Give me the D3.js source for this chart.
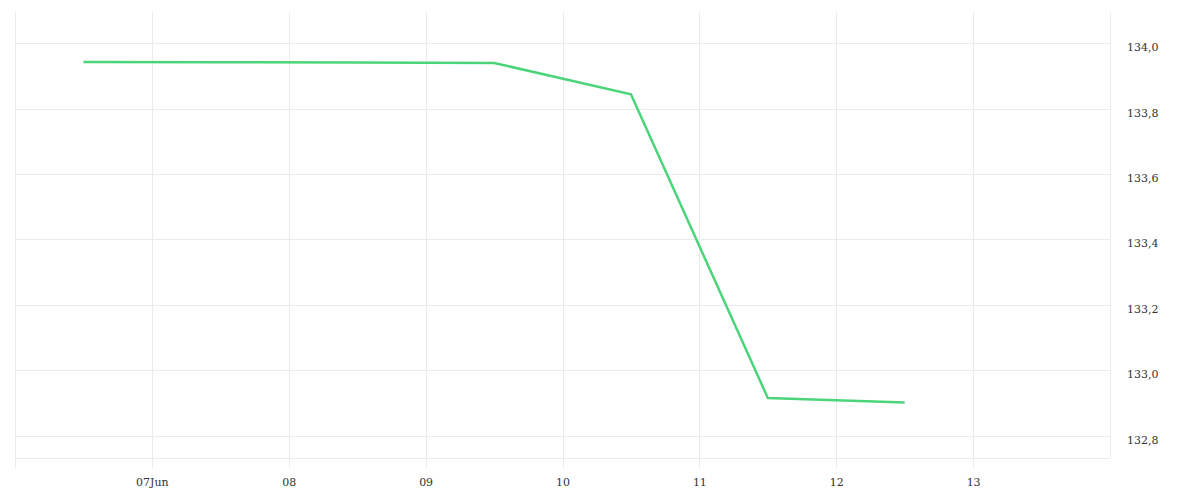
<!DOCTYPE html>
<html>
<head>
<meta charset="utf-8">
<script src="https://cdn.jsdelivr.net/npm/d3@7"></script>
<style>
  html, body { margin: 0; padding: 0; background: #fff; }
  svg { display: block; }
</style>
</head>
<body>
<svg id="chart" width="1200" height="500"></svg>
<script>
// ---- data ----
const dates = ["2023-06-06T12:00", "2023-06-07T12:00", "2023-06-08T12:00", "2023-06-09T12:00",
               "2023-06-10T12:00", "2023-06-11T12:00", "2023-06-12T12:00"];
const values = [133.943, 133.942, 133.941, 133.940, 133.844, 132.915, 132.901];
const yTicks = [132.8, 133.0, 133.2, 133.4, 133.6, 133.8, 134.0];
const xTicks = ["2023-06-07", "2023-06-08", "2023-06-09", "2023-06-10", "2023-06-11", "2023-06-12", "2023-06-13"];
const xTickLabels = ["07Jun", "08", "09", "10", "11", "12", "13"];

// ---- layout ----
const parse = d3.timeParse("%Y-%m-%dT%H:%M");
const parseDay = d3.timeParse("%Y-%m-%d");
const pLeft = 15, pRight = 1110, pTop = 12, pBottom = 458, vBottom = 468;
const FONT = "'DejaVu Serif', 'Liberation Serif', serif";

const x = d3.scaleTime()
  .domain([parseDay("2023-06-06"), parseDay("2023-06-14")])
  .range([pLeft, pRight]);
const y = d3.scaleLinear()
  .domain([132.8, 134.0])
  .range([435.5, 43.3]);

const svg = d3.select("#chart");
const grid = "#ebebeb";

// horizontal gridlines
svg.append("g").selectAll("line").data(yTicks).join("line")
  .attr("x1", pLeft).attr("x2", pRight)
  .attr("y1", d => Math.round(y(d)) + 0.5).attr("y2", d => Math.round(y(d)) + 0.5)
  .attr("stroke", grid).attr("stroke-width", 1);

// bottom line
svg.append("line")
  .attr("x1", pLeft).attr("x2", pRight).attr("y1", pBottom + 0.5).attr("y2", pBottom + 0.5)
  .attr("stroke", grid);

// vertical gridlines
const xTickDates = xTicks.map(parseDay);
svg.append("g").selectAll("line").data(xTickDates).join("line")
  .attr("x1", d => Math.round(x(d)) + 0.5).attr("x2", d => Math.round(x(d)) + 0.5)
  .attr("y1", pTop).attr("y2", vBottom)
  .attr("stroke", grid);

// left border
svg.append("line")
  .attr("x1", pLeft + 0.5).attr("x2", pLeft + 0.5).attr("y1", pTop).attr("y2", vBottom)
  .attr("stroke", grid);
// right axis line
svg.append("line")
  .attr("x1", pRight + 0.5).attr("x2", pRight + 0.5).attr("y1", pTop).attr("y2", pBottom)
  .attr("stroke", grid);

// x axis labels
const xAxis = d3.axisBottom(x)
  .tickValues(xTickDates)
  .tickSize(0)
  .tickPadding(0)
  .tickFormat((d, i) => xTickLabels[i]);
const gx = svg.append("g").attr("transform", `translate(0, 478)`).call(xAxis);
gx.select(".domain").remove();
gx.attr("font-family", FONT).attr("font-size", 11);
gx.selectAll(".tick text").attr("dy", "0.71em").attr("fill", "#333")
  .style("font-family", FONT).style("font-size", "11px");

// y axis labels
const fmt = d => d3.format(".1f")(d).replace(".", ",");
const yAxis = d3.axisRight(y)
  .tickValues(yTicks)
  .tickSize(0)
  .tickPadding(0)
  .tickFormat(fmt);
const gy = svg.append("g").attr("transform", `translate(1127, 4)`).call(yAxis);
gy.select(".domain").remove();
gy.attr("font-family", FONT).attr("font-size", 11);
gy.selectAll(".tick text").attr("text-anchor", "start").attr("fill", "#333")
  .style("font-family", FONT).style("font-size", "11px");

// line
const line = d3.line()
  .x((d, i) => x(parse(dates[i])))
  .y(d => y(d));
svg.append("path")
  .datum(values)
  .attr("fill", "none")
  .attr("stroke", "#4cd47b")
  .attr("stroke-width", 2.5)
  .attr("stroke-linejoin", "miter")
  .attr("d", line);
</script>
</body>
</html>
